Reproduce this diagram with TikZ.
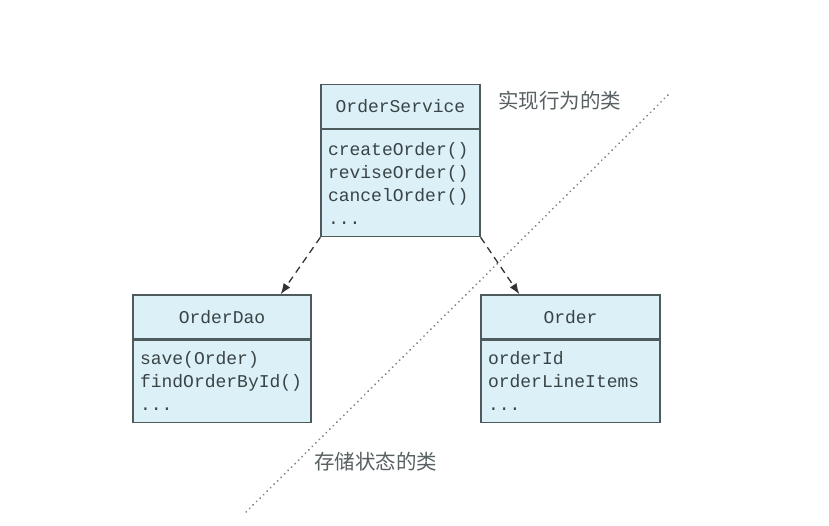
\documentclass[tikz,border=0pt]{standalone}
\usepackage{fontspec}
\setmonofont{Liberation Mono}
\newfontfamily\cjk{Noto Sans CJK SC}
\usetikzlibrary{arrows.meta, positioning}
\definecolor{classfill}{HTML}{DCF0F8}
\definecolor{classline}{HTML}{4E5A5C}
\definecolor{textgray}{HTML}{3A4446}

\begin{document}
\begin{tikzpicture}[
    x=1pt, y=1pt,
    font=\ttfamily\fontsize{18}{23}\selectfont,
    head/.style={rectangle, draw=classline, fill=classfill, line width=1.2pt, minimum height=44pt, inner sep=0pt, text=textgray},
    body/.style={rectangle, draw=classline, fill=classfill, line width=1.2pt, inner xsep=7pt, inner ysep=0pt, align=left, text=textgray},
    dep/.style={-{Latex[length=11pt,width=8pt]}, dash pattern=on 7pt off 5pt, line width=1.3pt, draw=black!80},
    split/.style={line width=2pt, dash pattern=on 0.1pt off 4.8pt, line cap=round, draw=black!50},
    note/.style={font=\cjk\fontsize{20.5}{24}\selectfont, text=textgray!85}
]
\useasboundingbox (0,0) rectangle (829,526);

% dividing line between the two kinds of class
\coordinate (cutA) at (668,431);
\coordinate (cutB) at (243,11);
\draw[split] (cutA) -- (cutB);

% -- OrderService --
\node[head, minimum width=159pt] (svchead) at (400.5,419.5) {OrderService};
\node[body, text width=145pt, minimum height=107pt, below=0pt of svchead] (svcbody) {createOrder()\\reviseOrder()\\cancelOrder()\\...};

% -- OrderDao --
\node[head, minimum width=178pt] (daohead) at (222,209) {OrderDao};
\node[body, text width=164pt, minimum height=82pt, below=0pt of daohead] (daobody) {save(Order)\\findOrderById()\\...};

% -- Order --
\node[head, minimum width=179pt] (ordhead) at (570.5,209) {Order};
\node[body, text width=165pt, minimum height=82pt, below=0pt of ordhead] (ordbody) {orderId\\orderLineItems\\...};

% dependencies
\draw[dep] (svcbody.south west) -- ([xshift=-31pt]daohead.north east);
\draw[dep] (svcbody.south east) -- ([xshift=39pt]ordhead.north west);

% labels
\node[note] (behave) at (559.5,425) {实现行为的类};
\node[note] (store) at (375.5,64) {存储状态的类};

\end{tikzpicture}
\end{document}
